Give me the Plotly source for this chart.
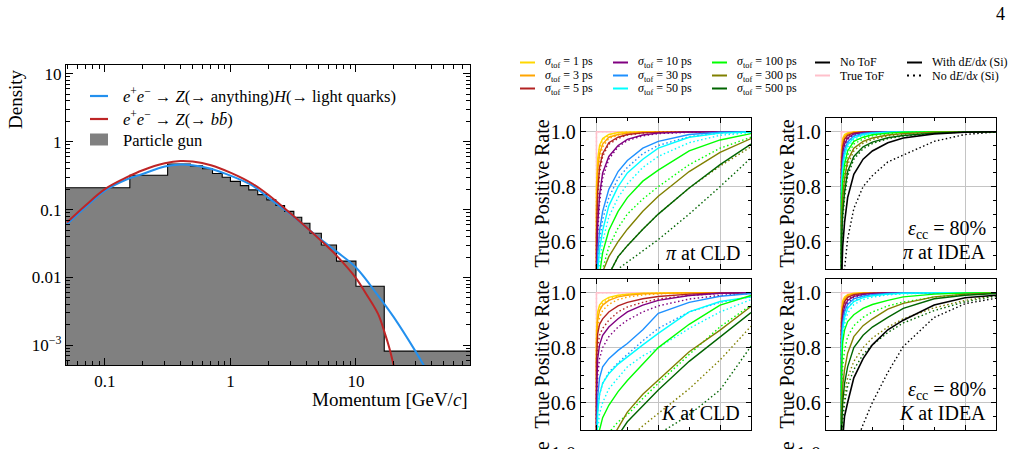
import math
import plotly.graph_objects as go

W, H = 1015, 449
FONT = "Liberation Serif"

# ---------------- left panel data ----------------
GUN_EDGES = [0.04, 0.158, 0.316, 0.48, 0.6, 0.72, 0.86, 1.0, 1.2, 1.4, 1.65, 1.95, 2.3,
             2.7, 3.2, 3.7, 4.3, 5.3, 7.0, 10.0, 16.8, 100.0]
GUN_DENSITY = [0.21, 0.32, 0.47, 0.44, 0.40, 0.34, 0.30, 0.26, 0.225, 0.195, 0.166, 0.139,
               0.115, 0.094, 0.077, 0.063, 0.0447, 0.030, 0.0174, 0.0074, 0.00082]

P_ZH = [0.05, 0.07, 0.1, 0.15, 0.2, 0.3, 0.4, 0.5, 0.7, 1.0, 1.5, 2.0, 3.0, 5.0, 7.0,
        10.0, 15.0, 20.0, 30.0, 36.0]
D_ZH = [0.061, 0.108, 0.19, 0.28, 0.335, 0.43, 0.46, 0.45, 0.40, 0.316, 0.225, 0.15,
        0.086, 0.039, 0.024, 0.014, 0.0054, 0.0026, 0.0008, 0.00045]
P_ZBB = [0.05, 0.07, 0.1, 0.15, 0.2, 0.3, 0.4, 0.5, 0.7, 1.0, 1.5, 2.0, 3.0, 5.0, 7.0,
         10.0, 12.0, 15.0, 17.0, 18.5, 20.0]
D_ZBB = [0.065, 0.115, 0.20, 0.30, 0.38, 0.48, 0.52, 0.51, 0.45, 0.35, 0.24, 0.165,
         0.088, 0.038, 0.021, 0.0098, 0.0058, 0.0029, 0.0015, 0.0009, 0.0005]

# ---------------- right panels data ----------------
SIGMA_LABELS = ["1", "3", "5", "10", "30", "50", "100", "300", "500"]
FPR = [0.0, 0.002, 0.005, 0.01, 0.02, 0.035, 0.05, 0.075, 0.1, 0.15, 0.2, 0.25]
ROC_ORIGIN = [0.0, 0.0]
TRUE_TOF = [1.0, 1.0, 1.0, 1.0, 1.0, 1.0, 1.0, 1.0, 1.0, 1.0, 1.0, 1.0]

PI_CLD_DEDX = [
    [0.80, 0.90, 0.95, 0.975, 0.99, 0.997, 0.999, 1.0, 1.0, 1.0, 1.0, 1.0],
    [0.72, 0.86, 0.92, 0.955, 0.98, 0.99, 0.995, 0.998, 1.0, 1.0, 1.0, 1.0],
    [0.62, 0.78, 0.87, 0.92, 0.96, 0.98, 0.99, 0.996, 0.998, 1.0, 1.0, 1.0],
    [0.50, 0.66, 0.77, 0.85, 0.91, 0.95, 0.972, 0.988, 0.995, 0.999, 1.0, 1.0],
    [0.40, 0.55, 0.64, 0.71, 0.79, 0.855, 0.895, 0.94, 0.965, 0.99, 0.998, 1.0],
    [0.35, 0.49, 0.57, 0.64, 0.73, 0.80, 0.85, 0.90, 0.94, 0.98, 0.995, 0.999],
    [0.25, 0.40, 0.48, 0.56, 0.64, 0.71, 0.76, 0.82, 0.86, 0.93, 0.97, 0.993],
    [0.15, 0.35, 0.43, 0.49, 0.545, 0.60, 0.645, 0.71, 0.765, 0.855, 0.925, 0.975],
    [0.10, 0.28, 0.36, 0.42, 0.48, 0.545, 0.585, 0.645, 0.70, 0.795, 0.88, 0.955],
]
PI_CLD_NODEDX = [
    [0.78, 0.88, 0.94, 0.97, 0.988, 0.996, 0.999, 1.0, 1.0, 1.0, 1.0, 1.0],
    [0.68, 0.83, 0.90, 0.945, 0.975, 0.988, 0.994, 0.998, 1.0, 1.0, 1.0, 1.0],
    [0.58, 0.75, 0.85, 0.91, 0.955, 0.975, 0.988, 0.995, 0.998, 1.0, 1.0, 1.0],
    [0.45, 0.62, 0.74, 0.83, 0.90, 0.945, 0.968, 0.985, 0.993, 0.998, 1.0, 1.0],
    [0.35, 0.50, 0.60, 0.68, 0.76, 0.83, 0.87, 0.92, 0.95, 0.982, 0.995, 0.999],
    [0.30, 0.44, 0.52, 0.60, 0.69, 0.76, 0.81, 0.87, 0.91, 0.96, 0.987, 0.997],
    [0.20, 0.33, 0.42, 0.50, 0.58, 0.65, 0.70, 0.755, 0.80, 0.88, 0.94, 0.98],
    [0.10, 0.28, 0.36, 0.42, 0.48, 0.545, 0.585, 0.645, 0.70, 0.795, 0.875, 0.945],
    [0.05, 0.25, 0.33, 0.40, 0.45, 0.50, 0.525, 0.565, 0.607, 0.70, 0.80, 0.905],
]

PI_IDEA_DEDX = [
    [0.93, 0.975, 0.99, 0.996, 0.999, 1.0, 1.0, 1.0, 1.0, 1.0, 1.0, 1.0],
    [0.91, 0.96, 0.982, 0.992, 0.998, 1.0, 1.0, 1.0, 1.0, 1.0, 1.0, 1.0],
    [0.89, 0.945, 0.972, 0.987, 0.996, 0.999, 1.0, 1.0, 1.0, 1.0, 1.0, 1.0],
    [0.86, 0.92, 0.955, 0.977, 0.992, 0.997, 0.999, 1.0, 1.0, 1.0, 1.0, 1.0],
    [0.82, 0.89, 0.935, 0.963, 0.985, 0.994, 0.997, 0.999, 1.0, 1.0, 1.0, 1.0],
    [0.79, 0.865, 0.915, 0.952, 0.978, 0.99, 0.995, 0.998, 0.999, 1.0, 1.0, 1.0],
    [0.74, 0.82, 0.88, 0.93, 0.965, 0.98, 0.989, 0.995, 0.998, 1.0, 1.0, 1.0],
    [0.66, 0.76, 0.83, 0.895, 0.94, 0.965, 0.977, 0.988, 0.993, 0.998, 1.0, 1.0],
    [0.60, 0.70, 0.78, 0.855, 0.91, 0.945, 0.962, 0.978, 0.986, 0.995, 0.999, 1.0],
]
PI_IDEA_NODEDX = [
    [0.91, 0.965, 0.985, 0.994, 0.998, 1.0, 1.0, 1.0, 1.0, 1.0, 1.0, 1.0],
    [0.88, 0.95, 0.977, 0.99, 0.997, 0.999, 1.0, 1.0, 1.0, 1.0, 1.0, 1.0],
    [0.86, 0.93, 0.965, 0.983, 0.994, 0.998, 1.0, 1.0, 1.0, 1.0, 1.0, 1.0],
    [0.82, 0.90, 0.945, 0.972, 0.989, 0.996, 0.998, 1.0, 1.0, 1.0, 1.0, 1.0],
    [0.78, 0.87, 0.92, 0.955, 0.98, 0.991, 0.995, 0.998, 1.0, 1.0, 1.0, 1.0],
    [0.75, 0.84, 0.90, 0.94, 0.972, 0.986, 0.992, 0.997, 0.999, 1.0, 1.0, 1.0],
    [0.70, 0.79, 0.86, 0.915, 0.955, 0.974, 0.985, 0.993, 0.997, 1.0, 1.0, 1.0],
    [0.62, 0.73, 0.81, 0.88, 0.93, 0.958, 0.972, 0.985, 0.991, 0.997, 1.0, 1.0],
    [0.57, 0.68, 0.76, 0.84, 0.90, 0.938, 0.957, 0.975, 0.984, 0.994, 0.999, 1.0],
]
PI_IDEA_NOTOF_DEDX = [0.45, 0.58, 0.67, 0.76, 0.845, 0.90, 0.93, 0.96, 0.977, 0.992, 0.998, 1.0]
PI_IDEA_NOTOF_NODEDX = [0.30, 0.42, 0.50, 0.61, 0.72, 0.80, 0.84, 0.89, 0.915, 0.965, 0.99, 0.999]

K_CLD_DEDX = [
    [0.86, 0.93, 0.955, 0.97, 0.983, 0.991, 0.995, 0.998, 0.999, 1.0, 1.0, 1.0],
    [0.82, 0.90, 0.935, 0.955, 0.972, 0.985, 0.991, 0.996, 0.998, 1.0, 1.0, 1.0],
    [0.75, 0.85, 0.885, 0.905, 0.93, 0.952, 0.965, 0.978, 0.986, 0.995, 0.999, 1.0],
    [0.62, 0.76, 0.81, 0.845, 0.875, 0.905, 0.93, 0.955, 0.972, 0.99, 0.998, 1.0],
    [0.45, 0.62, 0.69, 0.73, 0.76, 0.79, 0.815, 0.865, 0.925, 0.965, 0.987, 0.997],
    [0.38, 0.56, 0.63, 0.67, 0.705, 0.74, 0.765, 0.81, 0.852, 0.93, 0.968, 0.985],
    [0.30, 0.45, 0.50, 0.545, 0.59, 0.64, 0.68, 0.74, 0.80, 0.885, 0.955, 0.99],
    [0.15, 0.32, 0.37, 0.41, 0.45, 0.51, 0.565, 0.63, 0.682, 0.785, 0.864, 0.95],
    [0.10, 0.27, 0.32, 0.36, 0.41, 0.48, 0.53, 0.59, 0.646, 0.75, 0.84, 0.928],
]
K_CLD_NODEDX = [
    [0.84, 0.915, 0.945, 0.963, 0.978, 0.988, 0.993, 0.997, 0.999, 1.0, 1.0, 1.0],
    [0.78, 0.87, 0.91, 0.935, 0.958, 0.975, 0.984, 0.992, 0.996, 0.999, 1.0, 1.0],
    [0.68, 0.80, 0.845, 0.87, 0.90, 0.93, 0.948, 0.965, 0.977, 0.99, 0.997, 1.0],
    [0.55, 0.70, 0.76, 0.80, 0.84, 0.875, 0.90, 0.93, 0.952, 0.977, 0.99, 0.997],
    [0.40, 0.57, 0.63, 0.67, 0.71, 0.745, 0.775, 0.825, 0.87, 0.93, 0.965, 0.985],
    [0.32, 0.50, 0.56, 0.60, 0.65, 0.69, 0.73, 0.77, 0.80, 0.87, 0.93, 0.975],
    [0.22, 0.36, 0.41, 0.45, 0.49, 0.53, 0.555, 0.615, 0.67, 0.775, 0.876, 0.955],
    [0.10, 0.25, 0.30, 0.35, 0.39, 0.43, 0.465, 0.515, 0.561, 0.65, 0.755, 0.878],
    [0.05, 0.15, 0.20, 0.25, 0.30, 0.35, 0.39, 0.44, 0.485, 0.555, 0.646, 0.805],
]

K_IDEA_DEDX = [
    [0.93, 0.97, 0.985, 0.993, 0.998, 1.0, 1.0, 1.0, 1.0, 1.0, 1.0, 1.0],
    [0.91, 0.955, 0.977, 0.99, 0.996, 0.999, 1.0, 1.0, 1.0, 1.0, 1.0, 1.0],
    [0.89, 0.94, 0.967, 0.983, 0.993, 0.997, 0.999, 1.0, 1.0, 1.0, 1.0, 1.0],
    [0.86, 0.915, 0.95, 0.972, 0.987, 0.994, 0.997, 0.999, 1.0, 1.0, 1.0, 1.0],
    [0.83, 0.89, 0.93, 0.957, 0.978, 0.988, 0.993, 0.997, 0.999, 1.0, 1.0, 1.0],
    [0.80, 0.865, 0.91, 0.943, 0.968, 0.982, 0.989, 0.995, 0.998, 1.0, 1.0, 1.0],
    [0.72, 0.82, 0.864, 0.895, 0.92, 0.943, 0.957, 0.972, 0.985, 0.995, 0.999, 1.0],
    [0.55, 0.66, 0.72, 0.78, 0.84, 0.88, 0.905, 0.94, 0.961, 0.985, 0.995, 0.999],
    [0.50, 0.60, 0.67, 0.73, 0.80, 0.845, 0.875, 0.91, 0.943, 0.978, 0.991, 0.997],
]
K_IDEA_NODEDX = [
    [0.91, 0.96, 0.98, 0.99, 0.996, 0.999, 1.0, 1.0, 1.0, 1.0, 1.0, 1.0],
    [0.88, 0.94, 0.97, 0.985, 0.994, 0.998, 1.0, 1.0, 1.0, 1.0, 1.0, 1.0],
    [0.86, 0.925, 0.958, 0.977, 0.99, 0.996, 0.998, 1.0, 1.0, 1.0, 1.0, 1.0],
    [0.82, 0.89, 0.935, 0.962, 0.982, 0.991, 0.995, 0.998, 1.0, 1.0, 1.0, 1.0],
    [0.78, 0.86, 0.91, 0.945, 0.97, 0.984, 0.99, 0.995, 0.998, 1.0, 1.0, 1.0],
    [0.74, 0.83, 0.885, 0.925, 0.957, 0.975, 0.984, 0.992, 0.996, 0.999, 1.0, 1.0],
    [0.62, 0.73, 0.79, 0.84, 0.88, 0.91, 0.93, 0.952, 0.966, 0.984, 0.994, 0.999],
    [0.45, 0.56, 0.63, 0.69, 0.75, 0.80, 0.835, 0.875, 0.905, 0.945, 0.972, 0.99],
    [0.42, 0.53, 0.60, 0.66, 0.72, 0.775, 0.81, 0.855, 0.89, 0.935, 0.967, 0.988],
]
K_IDEA_NOTOF_DEDX = [0.35, 0.47, 0.55, 0.60, 0.69, 0.76, 0.81, 0.865, 0.90, 0.955, 0.982, 0.991]
K_IDEA_NOTOF_NODEDX = [0.10, 0.20, 0.28, 0.35, 0.43, 0.52, 0.60, 0.71, 0.804, 0.91, 0.96, 0.98]

SIGMA_COLORS = ["#FFD700", "#FFA500", "#B22222", "#800080", "#1E90FF", "#00FFFF",
                "#00FF00", "#808000", "#006400"]
NOTOF_COLOR = "#000000"
TRUETOF_COLOR = "#FFC0CB"
DOT = "1.5px,2.5px"

# ---------------- geometry helpers (pixels -> paper) ----------------
def px_x(x):
    return x / W


def px_y(y):
    return 1 - y / H


fig = go.Figure()

# ---------------- left panel ----------------
fig.add_trace(go.Scatter(
    x=GUN_EDGES, y=GUN_DENSITY + [GUN_DENSITY[-1]], mode="lines", line_shape="hv",
    fill="tozeroy", fillcolor="#808080", line=dict(color="black", width=1.1),
    xaxis="x", yaxis="y", showlegend=False, hoverinfo="skip"))
fig.add_trace(go.Scatter(
    x=P_ZH, y=D_ZH, mode="lines", line=dict(color="#2390EE", width=2, shape="spline"),
    xaxis="x", yaxis="y", showlegend=False))
fig.add_trace(go.Scatter(
    x=P_ZBB, y=D_ZBB, mode="lines", line=dict(color="#BE2526", width=2, shape="spline"),
    xaxis="x", yaxis="y", showlegend=False))

minor_log_x = [k * 10 ** e for e in range(-2, 2) for k in range(2, 10)]
minor_log_y = [k * 10 ** e for e in range(-4, 1) for k in range(2, 10)]

axis_common = dict(showline=True, linecolor="black", linewidth=1.2, mirror="allticks",
                   ticks="inside", tickcolor="black", zeroline=False,
                   tickfont=dict(family=FONT, size=17, color="black"))

layout = dict(
    width=W, height=H, margin=dict(l=0, r=0, t=0, b=0),
    paper_bgcolor="white", plot_bgcolor="white", showlegend=False,
    font=dict(family=FONT, color="black"),
    xaxis=dict(domain=[px_x(66), px_x(470)], anchor="y", type="log",
               range=[math.log10(0.049), math.log10(81)],
               tickvals=[0.1, 1, 10], ticktext=["0.1", "1", "10"], ticklen=7,
               showgrid=False,
               minor=dict(tickvals=minor_log_x, ticks="inside", ticklen=3.5,
                          tickcolor="black", showgrid=False),
               **axis_common),
    yaxis=dict(domain=[px_y(365), px_y(65)], anchor="x", type="log",
               range=[-3.29, 1.13],
               tickvals=[1e-3, 0.01, 0.1, 1, 10],
               ticktext=["10<sup>−3</sup>", "0.01", "0.1", "1", "10"], ticklen=7,
               showgrid=False,
               minor=dict(tickvals=minor_log_y, ticks="inside", ticklen=3.5,
                          tickcolor="black", showgrid=False),
               **axis_common),
)

# ---------------- right panels ----------------
COLS = [(581, 751), (826, 996)]
ROWS = [(118, 269), (279, 430)]
panels = [
    (0, 0, PI_CLD_DEDX, PI_CLD_NODEDX, None, None),
    (0, 1, PI_IDEA_DEDX, PI_IDEA_NODEDX, PI_IDEA_NOTOF_DEDX, PI_IDEA_NOTOF_NODEDX),
    (1, 0, K_CLD_DEDX, K_CLD_NODEDX, None, None),
    (1, 1, K_IDEA_DEDX, K_IDEA_NODEDX, K_IDEA_NOTOF_DEDX, K_IDEA_NOTOF_NODEDX),
]

axis_r = dict(showline=True, linecolor="black", linewidth=1.3, mirror="allticks",
              ticks="inside", tickcolor="black", zeroline=False,
              showgrid=True, gridcolor="#c4c4c4", gridwidth=1,
              tickfont=dict(family=FONT, size=20, color="black"))

roc_x = [ROC_ORIGIN[0]] + FPR
for i, (r, c, dedx, nodedx, notof_d, notof_n) in enumerate(panels):
    n = i + 2
    xa, ya = f"x{n}", f"y{n}"
    layout[f"xaxis{n}"] = dict(domain=[px_x(COLS[c][0]), px_x(COLS[c][1])], anchor=ya,
                               range=[-0.025, 0.25], tick0=0, dtick=0.1, ticklen=5,
                               showticklabels=False,
                               minor=dict(tick0=0, dtick=0.05, ticks="inside", ticklen=3,
                                          tickcolor="black", showgrid=False),
                               **axis_r)
    layout[f"yaxis{n}"] = dict(domain=[px_y(ROWS[r][1]), px_y(ROWS[r][0])], anchor=xa,
                               range=[0.5, 1.05], tickvals=[0.6, 0.8, 1.0],
                               ticktext=["0.6", "0.8", "1.0"], ticklen=5,
                               minor=dict(tick0=0.5, dtick=0.05, ticks="inside", ticklen=3,
                                          tickcolor="black", showgrid=False),
                               **axis_r)
    # True ToF
    for dash in ["solid", DOT]:
        fig.add_trace(go.Scatter(x=roc_x, y=[ROC_ORIGIN[1]] + TRUE_TOF, mode="lines",
                                 line=dict(color=TRUETOF_COLOR, width=1.5, dash=dash),
                                 xaxis=xa, yaxis=ya, showlegend=False))
    for k in range(len(SIGMA_LABELS)):
        fig.add_trace(go.Scatter(x=roc_x, y=[ROC_ORIGIN[1]] + nodedx[k], mode="lines",
                                 line=dict(color=SIGMA_COLORS[k], width=1.4, dash=DOT),
                                 xaxis=xa, yaxis=ya, showlegend=False))
        fig.add_trace(go.Scatter(x=roc_x, y=[ROC_ORIGIN[1]] + dedx[k], mode="lines",
                                 line=dict(color=SIGMA_COLORS[k], width=1.4),
                                 xaxis=xa, yaxis=ya, showlegend=False))
    if notof_d is not None:
        fig.add_trace(go.Scatter(x=roc_x, y=[ROC_ORIGIN[1]] + notof_n, mode="lines",
                                 line=dict(color=NOTOF_COLOR, width=1.4, dash=DOT),
                                 xaxis=xa, yaxis=ya, showlegend=False))
        fig.add_trace(go.Scatter(x=roc_x, y=[ROC_ORIGIN[1]] + notof_d, mode="lines",
                                 line=dict(color=NOTOF_COLOR, width=1.6),
                                 xaxis=xa, yaxis=ya, showlegend=False))

# third row, cut off at the bottom of the page: only its top frame is visible
for c, n in [(0, 6), (1, 7)]:
    layout[f"xaxis{n}"] = dict(domain=[px_x(COLS[c][0]), px_x(COLS[c][1])], anchor=f"y{n}",
                               side="top", range=[-0.025, 0.25], tick0=0, dtick=0.1,
                               showline=True, linecolor="black", linewidth=1.3,
                               ticks="inside", ticklen=5, tickcolor="black",
                               showticklabels=False, showgrid=False, zeroline=False,
                               minor=dict(tick0=0, dtick=0.05, ticks="inside", ticklen=3,
                                          tickcolor="black"))
    layout[f"yaxis{n}"] = dict(domain=[0, px_y(440)], anchor=f"x{n}", range=[0, 1],
                               showline=True, linecolor="black", linewidth=1.3, mirror=True,
                               ticks="", showticklabels=False, showgrid=False,
                               zeroline=False)

fig.update_layout(**layout)

# ---------------- annotations / manual legends ----------------
ann = []
shapes = []


def text(x, y, s, size, xanchor="left", yanchor="middle", angle=0):
    ann.append(dict(x=px_x(x), y=px_y(y), xref="paper", yref="paper", text=s,
                    showarrow=False, xanchor=xanchor, yanchor=yanchor, textangle=angle,
                    font=dict(family=FONT, size=size, color="black")))


def hline(x0, x1, y, color, width=2, dash="solid"):
    shapes.append(dict(type="line", xref="paper", yref="paper", x0=px_x(x0), x1=px_x(x1),
                       y0=px_y(y), y1=px_y(y), line=dict(color=color, width=width, dash=dash)))


# page number
text(1000, 14, "4", 18, xanchor="center")

# left axis titles
text(15, 67, "Density", 19, xanchor="center", yanchor="top", angle=-90)
text(470, 399, "Momentum [GeV/<i>c</i>]", 19, xanchor="right")

# left legend
LEFT_LEGEND = [
    ("<i>e</i><sup>+</sup><i>e</i><sup>−</sup> → <i>Z</i>(→ anything)<i>H</i>(→ light quarks)", "#2390EE"),
    ("<i>e</i><sup>+</sup><i>e</i><sup>−</sup> → <i>Z</i>(→ <i>b</i><i>b̄</i>)", "#BE2526"),
]
for j, (lab, col) in enumerate(LEFT_LEGEND):
    y = [96, 119][j]
    hline(90, 108, y, col, 2.2)
    text(121, y, lab, 16.5)
shapes.append(dict(type="rect", xref="paper", yref="paper", x0=px_x(90), x1=px_x(108),
                   y0=px_y(145.5), y1=px_y(133.5), fillcolor="#808080", line=dict(width=0)))
text(121, 140, "Particle gun", 16.5)

# top legend for right panels
LEG_X = [520, 613, 712, 815, 907]
LEG_Y = [62.5, 75.5, 88.5]
entries = []
for k, s in enumerate(SIGMA_LABELS):
    entries.append((k // 3, k % 3, f"<i>σ</i><sub>tof</sub> = {s} ps", SIGMA_COLORS[k], "solid"))
entries.append((3, 0, "No ToF", NOTOF_COLOR, "solid"))
entries.append((3, 1, "True ToF", TRUETOF_COLOR, "solid"))
entries.append((4, 0, "With d<i>E</i>/d<i>x</i> (Si)", "black", "solid"))
entries.append((4, 1, "No d<i>E</i>/d<i>x</i> (Si)", "black", "2px,4px"))
for col, row, lab, color, dash in entries:
    x0 = LEG_X[col]
    hline(x0, x0 + 15, LEG_Y[row], color, 2, dash)
    text(x0 + 23, LEG_Y[row], lab, 12)

# panel titles and labels
for c in range(2):
    xc = [541, 786][c]
    for yc in [193.5, 354.5, 515.5]:
        text(xc, yc, "True Positive Rate", 20, xanchor="center", angle=-90)
    text(COLS[c][0] - 3, 453.75, "1.0", 20, xanchor="right")

text(742, 253, "<i>π</i> at CLD", 20, xanchor="right")
text(742, 413, "<i>K</i> at CLD", 20, xanchor="right")
text(988, 229, "<i>ε</i><sub>cc</sub> = 80%", 20, xanchor="right")
text(988, 252, "<i>π</i> at IDEA", 20, xanchor="right")
text(988, 390, "<i>ε</i><sub>cc</sub> = 80%", 20, xanchor="right")
text(988, 413, "<i>K</i> at IDEA", 20, xanchor="right")

fig.update_layout(annotations=ann, shapes=shapes)
fig.write_html("out.html")
